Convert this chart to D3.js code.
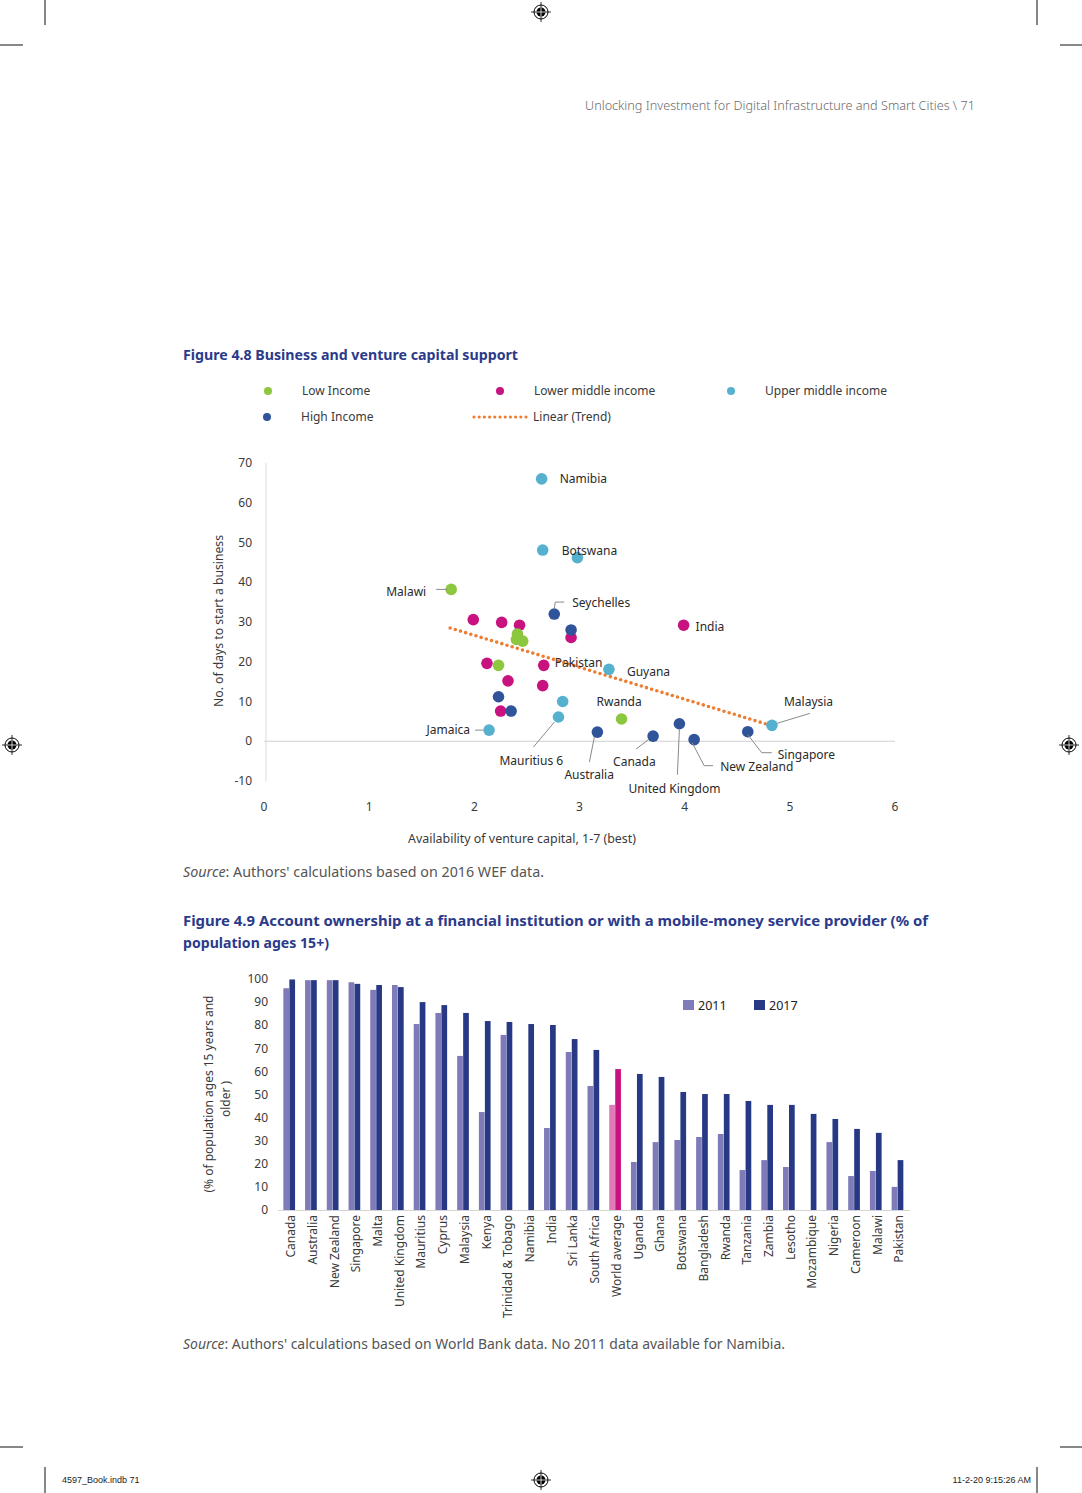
<!DOCTYPE html>
<html>
<head>
<meta charset="utf-8">
<script src="https://cdn.jsdelivr.net/npm/d3@7"></script>
<style>
  html, body { margin: 0; padding: 0; background: #fff; }
  svg { display: block; font-family: "Noto Sans", "DejaVu Sans", sans-serif; }
</style>
</head>
<body>
<svg id="page" width="1082" height="1493"></svg>
<script>
// ---------------- DATA: Figure 4.8 (scatter) ----------------
const incomeGroups = ["Low Income", "Lower middle income", "Upper middle income", "High Income"];
const pointNames = ["Namibia", "Botswana", "", "Malawi", "Seychelles", "", "", "", "", "", "", "", "", "India",
  "", "", "Pakistan", "Guyana", "", "", "", "", "", "", "Mauritius 6", "Rwanda", "Jamaica", "Australia",
  "Canada", "United Kingdom", "New Zealand", "Singapore", "Malaysia"];
const pointX = [2.64, 2.65, 2.98, 1.78, 2.76, 1.99, 2.26, 2.43, 2.92, 2.92, 2.41, 2.46, 2.40, 3.99,
  2.12, 2.23, 2.66, 3.28, 2.32, 2.65, 2.23, 2.84, 2.25, 2.35, 2.80, 3.40, 2.14, 3.17,
  3.70, 3.95, 4.09, 4.60, 4.83];
const pointY = [66.0, 48.1, 46.2, 38.2, 32.0, 30.6, 29.9, 29.2, 28.0, 26.1, 27.0, 25.2, 25.6, 29.2,
  19.6, 19.1, 19.1, 18.1, 15.2, 14.0, 11.2, 10.0, 7.6, 7.6, 6.1, 5.6, 2.8, 2.3,
  1.3, 4.4, 0.4, 2.4, 4.0];
const pointGroup = ["Upper middle income", "Upper middle income", "Upper middle income", "Low Income", "High Income",
  "Lower middle income", "Lower middle income", "Lower middle income", "High Income", "Lower middle income",
  "Low Income", "Low Income", "Low Income", "Lower middle income",
  "Lower middle income", "Low Income", "Lower middle income", "Upper middle income", "Lower middle income",
  "Lower middle income", "High Income", "Upper middle income", "Lower middle income", "High Income",
  "Upper middle income", "Low Income", "Upper middle income", "High Income",
  "High Income", "High Income", "High Income", "High Income", "Upper middle income"];
const trendX = [1.77, 4.78];
const trendY = [28.5, 4.3];
const scatterXTicks = [0, 1, 2, 3, 4, 5, 6];
const scatterYTicks = [-10, 0, 10, 20, 30, 40, 50, 60, 70];

// ---------------- DATA: Figure 4.9 (bars) ----------------
const countries = ["Canada", "Australia", "New Zealand", "Singapore", "Malta", "United Kingdom", "Mauritius",
  "Cyprus", "Malaysia", "Kenya", "Trinidad & Tobago", "Namibia", "India", "Sri Lanka", "South Africa",
  "World average", "Uganda", "Ghana", "Botswana", "Bangladesh", "Rwanda", "Tanzania", "Zambia", "Lesotho",
  "Mozambique", "Nigeria", "Cameroon", "Malawi", "Pakistan"];
const values2011 = [96.0, 99.5, 99.5, 98.6, 95.3, 97.4, 80.5, 85.3, 66.7, 42.4, 75.8, null, 35.5, 68.4, 53.7,
  45.5, 20.8, 29.4, 30.3, 31.6, 32.9, 17.3, 21.6, 18.6, null, 29.4, 14.7, 16.9, 10.0];
const values2017 = [99.8, 99.5, 99.5, 97.9, 97.4, 96.5, 90.0, 88.7, 85.3, 81.8, 81.4, 80.5, 80.1, 74.0, 69.3,
  61.0, 58.9, 57.6, 51.1, 50.2, 50.2, 47.2, 45.5, 45.5, 41.6, 39.4, 35.1, 33.4, 21.6];
const barYears = ["2011", "2017"];
const barYTicks = [0, 10, 20, 30, 40, 50, 60, 70, 80, 90, 100];

// ---------------- STYLE ----------------
const groupColor = {
  "Low Income": "#8dc63f",
  "Lower middle income": "#c8127f",
  "Upper middle income": "#56b1cf",
  "High Income": "#30549a"
};
const trendColor = "#ec7d31";
const col2011 = "#7f7bb9", col2017 = "#273884";
const colWorld2011 = "#e07ab7", colWorld2017 = "#c8127f";
const titleColor = "#2b3a8a";
const textColor = "#3a3a3a";

const svg = d3.select("#page");

// ---------------- Page furniture ----------------
const furn = svg.append("g").attr("stroke", "#111").attr("stroke-width", 1);
[[45,0,45,25],[1037,0,1037,25],[0,45,23,45],[1060,45,1082,45],
 [0,1447,23,1447],[1060,1447,1082,1447],[45,1467,45,1493],[1037,1467,1037,1493]]
 .forEach(l => furn.append("line").attr("x1", l[0]).attr("y1", l[1]).attr("x2", l[2]).attr("y2", l[3]));

function regMark(cx, cy) {
  const g = svg.append("g").attr("transform", `translate(${cx},${cy})`);
  g.append("line").attr("x1", -10).attr("x2", 10).attr("stroke", "#000").attr("stroke-width", 0.8);
  g.append("line").attr("y1", -10).attr("y2", 10).attr("stroke", "#000").attr("stroke-width", 0.8);
  g.append("circle").attr("r", 7).attr("fill", "none").attr("stroke", "#000").attr("stroke-width", 1);
  g.append("circle").attr("r", 4.5).attr("fill", "#000");
  g.append("line").attr("x1", -4.5).attr("x2", 4.5).attr("stroke", "#fff").attr("stroke-width", 0.8);
  g.append("line").attr("y1", -4.5).attr("y2", 4.5).attr("stroke", "#fff").attr("stroke-width", 0.8);
}
regMark(541, 12); regMark(12, 745); regMark(1069, 745); regMark(541, 1480);

svg.append("text").attr("x", 975).attr("y", 110).attr("text-anchor", "end")
  .attr("font-size", 13).attr("fill", "#6a6a6a").attr("font-weight", 300)
  .attr("textLength", 390).attr("lengthAdjust", "spacingAndGlyphs")
  .text("Unlocking Investment for Digital Infrastructure and Smart Cities \\ 71");

svg.append("text").attr("x", 62).attr("y", 1483).attr("font-size", 9)
  .attr("font-family", "Liberation Sans, Arial, sans-serif").attr("fill", "#222")
  .text("4597_Book.indb   71");
svg.append("text").attr("x", 1031).attr("y", 1483).attr("font-size", 9).attr("text-anchor", "end")
  .attr("font-family", "Liberation Sans, Arial, sans-serif").attr("fill", "#222")
  .text("11-2-20   9:15:26 AM");

// ---------------- Figure 4.8 ----------------
svg.append("text").attr("x", 183).attr("y", 360).attr("font-size", 14.5).attr("font-weight", 700)
  .attr("fill", titleColor).attr("textLength", 335).attr("lengthAdjust", "spacingAndGlyphs")
  .text("Figure 4.8  Business and venture capital support");

// legend
const legendItems = [
  {label: "Low Income", type: "dot", group: "Low Income", x: 268, y: 391},
  {label: "Lower middle income", type: "dot", group: "Lower middle income", x: 500, y: 391},
  {label: "Upper middle income", type: "dot", group: "Upper middle income", x: 731, y: 391},
  {label: "High Income", type: "dot", group: "High Income", x: 267, y: 417},
  {label: "Linear (Trend)", type: "line", x: 500, y: 417}
];
legendItems.forEach(it => {
  if (it.type === "dot") {
    svg.append("circle").attr("cx", it.x).attr("cy", it.y).attr("r", 4).attr("fill", groupColor[it.group]);
    svg.append("text").attr("x", it.x + 34).attr("y", it.y).attr("dy", "0.35em")
      .attr("font-size", 12).attr("fill", textColor).text(it.label);
  } else {
    svg.append("line").attr("x1", 474).attr("x2", 526).attr("y1", it.y).attr("y2", it.y)
      .attr("stroke", trendColor).attr("stroke-width", 3.2).attr("stroke-linecap", "round")
      .attr("stroke-dasharray", "0 5.2");
    svg.append("text").attr("x", 533).attr("y", it.y).attr("dy", "0.35em")
      .attr("font-size", 12).attr("fill", textColor).text(it.label);
  }
});

const sx = d3.scaleLinear().domain([0, 6]).range([264, 895]);
const sy = d3.scaleLinear().domain([-10, 70]).range([781, 463]);

const sc = svg.append("g");
// axis lines
sc.append("line").attr("x1", sx(0)).attr("x2", sx(6)).attr("y1", sy(0)).attr("y2", sy(0))
  .attr("stroke", "#cfcfcf").attr("stroke-width", 1);
sc.append("line").attr("x1", sx(0) + 2).attr("x2", sx(0) + 2).attr("y1", sy(70)).attr("y2", sy(-10))
  .attr("stroke", "#dcdcdc").attr("stroke-width", 1);

sc.selectAll(".yt").data(scatterYTicks).join("text")
  .attr("x", 252).attr("y", d => sy(d)).attr("dy", "0.35em").attr("text-anchor", "end")
  .attr("font-size", 12).attr("fill", textColor).text(d => d);
sc.selectAll(".xt").data(scatterXTicks).join("text")
  .attr("x", d => sx(d)).attr("y", 807).attr("dy", "0.35em").attr("text-anchor", "middle")
  .attr("font-size", 12).attr("fill", textColor).text(d => d);

sc.append("text").attr("transform", `translate(223,621) rotate(-90)`).attr("text-anchor", "middle")
  .attr("font-size", 12).attr("fill", textColor).attr("textLength", 172).attr("lengthAdjust", "spacingAndGlyphs")
  .text("No. of days to start a business");
sc.append("text").attr("x", 522).attr("y", 839).attr("dy", "0.35em").attr("text-anchor", "middle")
  .attr("font-size", 12).attr("fill", textColor).attr("textLength", 228).attr("lengthAdjust", "spacingAndGlyphs")
  .text("Availability of venture capital, 1-7 (best)");

// trend
const trendLine = d3.line().x(d => sx(d[0])).y(d => sy(d[1]));
sc.append("path").attr("d", trendLine(d3.zip(trendX, trendY))).attr("fill", "none")
  .attr("stroke", trendColor).attr("stroke-width", 3.6).attr("stroke-linecap", "round")
  .attr("stroke-dasharray", "0 5.4");

// points
const points = pointNames.map((n, i) => ({name: n, x: pointX[i], y: pointY[i], group: pointGroup[i]}));
const drawOrder = ["Lower middle income", "Low Income", "Upper middle income", "High Income"];
const sortedPts = points.slice().sort((a, b) => drawOrder.indexOf(a.group) - drawOrder.indexOf(b.group));
sc.selectAll(".pt").data(sortedPts).join("circle")
  .attr("cx", d => sx(d.x)).attr("cy", d => sy(d.y)).attr("r", 5.8)
  .attr("fill", d => groupColor[d.group]);

// labels (pixel offsets relative to each point)
const labelLayout = {
  "Namibia": {dx: 18, dy: 0},
  "Botswana": {dx: 19, dy: 1},
  "Malawi": {dx: -25, dy: 2, anchor: "end", leader: [[-15, 0], [-4, 0]]},
  "Seychelles": {dx: 18, dy: -11, leader: [[0, -5], [1, -12], [10, -12]]},
  "India": {dx: 12, dy: 2},
  "Pakistan": {dx: 11, dy: -3},
  "Guyana": {dx: 18, dy: 2},
  "Rwanda": {dx: -25, dy: -17},
  "Malaysia": {dx: 12, dy: -24, leader: [[5, -2], [38, -12]]},
  "Jamaica": {dx: -19, dy: 0, anchor: "end", leader: [[-14, 0], [-6, 0]]},
  "Mauritius 6": {dx: -59, dy: 44, leader: [[-4, 5], [-25, 30]]},
  "Australia": {dx: -33, dy: 43, leader: [[-3, 5], [-8, 30]]},
  "Canada": {dx: -40, dy: 26, leader: [[-4, 3], [-17, 13]]},
  "United Kingdom": {dx: -51, dy: 65, leader: [[0, 5], [-2, 51]]},
  "New Zealand": {dx: 26, dy: 27, leader: [[-2, 3], [10, 26], [19, 26]]},
  "Singapore": {dx: 30, dy: 23, leader: [[0, 3], [14, 21], [24, 21]]}
};
const labeled = points.filter(p => p.name && labelLayout[p.name]);
labeled.forEach(p => {
  const L = labelLayout[p.name];
  const px = sx(p.x), py = sy(p.y);
  if (L.leader) {
    sc.append("path").attr("d", d3.line()(L.leader.map(o => [px + o[0], py + o[1]])))
      .attr("fill", "none").attr("stroke", "#8a8a8a").attr("stroke-width", 1);
  }
  sc.append("text").attr("x", px + L.dx).attr("y", py + L.dy).attr("dy", "0.35em")
    .attr("text-anchor", L.anchor || "start").attr("font-size", 12).attr("fill", "#2a2a2a")
    .text(p.name);
});

// source 1
const s1 = svg.append("text").attr("x", 183).attr("y", 877).attr("font-size", 14).attr("fill", "#555")
  .attr("textLength", 361).attr("lengthAdjust", "spacingAndGlyphs");
s1.append("tspan").attr("font-style", "italic").text("Source");
s1.append("tspan").text(": Authors' calculations based on 2016 WEF data.");

// ---------------- Figure 4.9 ----------------
svg.append("text").attr("x", 183).attr("y", 926).attr("font-size", 14.5).attr("font-weight", 700)
  .attr("fill", titleColor).attr("textLength", 745).attr("lengthAdjust", "spacingAndGlyphs")
  .text("Figure 4.9  Account ownership at a financial institution or with a mobile-money service provider (% of");
svg.append("text").attr("x", 183).attr("y", 948).attr("font-size", 14.5).attr("font-weight", 700)
  .attr("fill", titleColor).attr("textLength", 146).attr("lengthAdjust", "spacingAndGlyphs")
  .text("population ages 15+)");

const bx = d3.scaleBand().domain(countries).range([278.5, 908.5]).padding(0);
const bsub = d3.scaleBand().domain(barYears).range([0, 12]).padding(0);
const by = d3.scaleLinear().domain([0, 100]).range([1210, 979]);

const bc = svg.append("g");
bc.selectAll(".byt").data(barYTicks).join("text")
  .attr("x", 268).attr("y", d => by(d)).attr("dy", "0.35em").attr("text-anchor", "end")
  .attr("font-size", 12).attr("fill", textColor).text(d => d);

const barData = [];
countries.forEach((c, i) => {
  barData.push({c, year: "2011", v: values2011[i]});
  barData.push({c, year: "2017", v: values2017[i]});
});
const off = (bx.bandwidth() - 12) / 2;
bc.selectAll(".bar").data(barData.filter(d => d.v != null)).join("rect")
  .attr("x", d => bx(d.c) + off + bsub(d.year))
  .attr("width", bsub.bandwidth() - 0.3)
  .attr("y", d => by(d.v)).attr("height", d => by(0) - by(d.v))
  .attr("fill", d => d.c === "World average" ? (d.year === "2011" ? colWorld2011 : colWorld2017)
                                             : (d.year === "2011" ? col2011 : col2017));

bc.append("line").attr("x1", 278).attr("x2", 910).attr("y1", by(0) + 0.5).attr("y2", by(0) + 0.5)
  .attr("stroke", "#d4d4d4");

bc.selectAll(".bxl").data(countries).join("text")
  .attr("transform", d => `translate(${bx(d) + bx.bandwidth() / 2 + 1.5},1215) rotate(-90)`)
  .attr("dy", "0.35em").attr("text-anchor", "end").attr("font-size", 12).attr("fill", textColor)
  .text(d => d);

// y title
bc.append("text").attr("transform", "translate(209,1094) rotate(-90)").attr("text-anchor", "middle")
  .attr("dy", "0.35em").attr("font-size", 12).attr("fill", textColor)
  .attr("textLength", 197).attr("lengthAdjust", "spacingAndGlyphs")
  .text("(% of population ages 15 years and");
bc.append("text").attr("transform", "translate(226,1099) rotate(-90)").attr("text-anchor", "middle")
  .attr("dy", "0.35em").attr("font-size", 12).attr("fill", textColor).text("older )");

// legend
const barLegendX = [683, 754];
barYears.forEach((yr, i) => {
  bc.append("rect").attr("x", barLegendX[i]).attr("y", 1000).attr("width", 11).attr("height", 10)
    .attr("fill", yr === "2011" ? col2011 : col2017);
  bc.append("text").attr("x", barLegendX[i] + 15).attr("y", 1006).attr("dy", "0.35em")
    .attr("font-size", 12.5).attr("fill", "#222").text(yr);
});

// source 2
const s2 = svg.append("text").attr("x", 183).attr("y", 1349).attr("font-size", 14).attr("fill", "#555")
  .attr("textLength", 602).attr("lengthAdjust", "spacingAndGlyphs");
s2.append("tspan").attr("font-style", "italic").text("Source");
s2.append("tspan").text(": Authors' calculations based on World Bank data. No 2011 data available for Namibia.");
</script>
</body>
</html>
